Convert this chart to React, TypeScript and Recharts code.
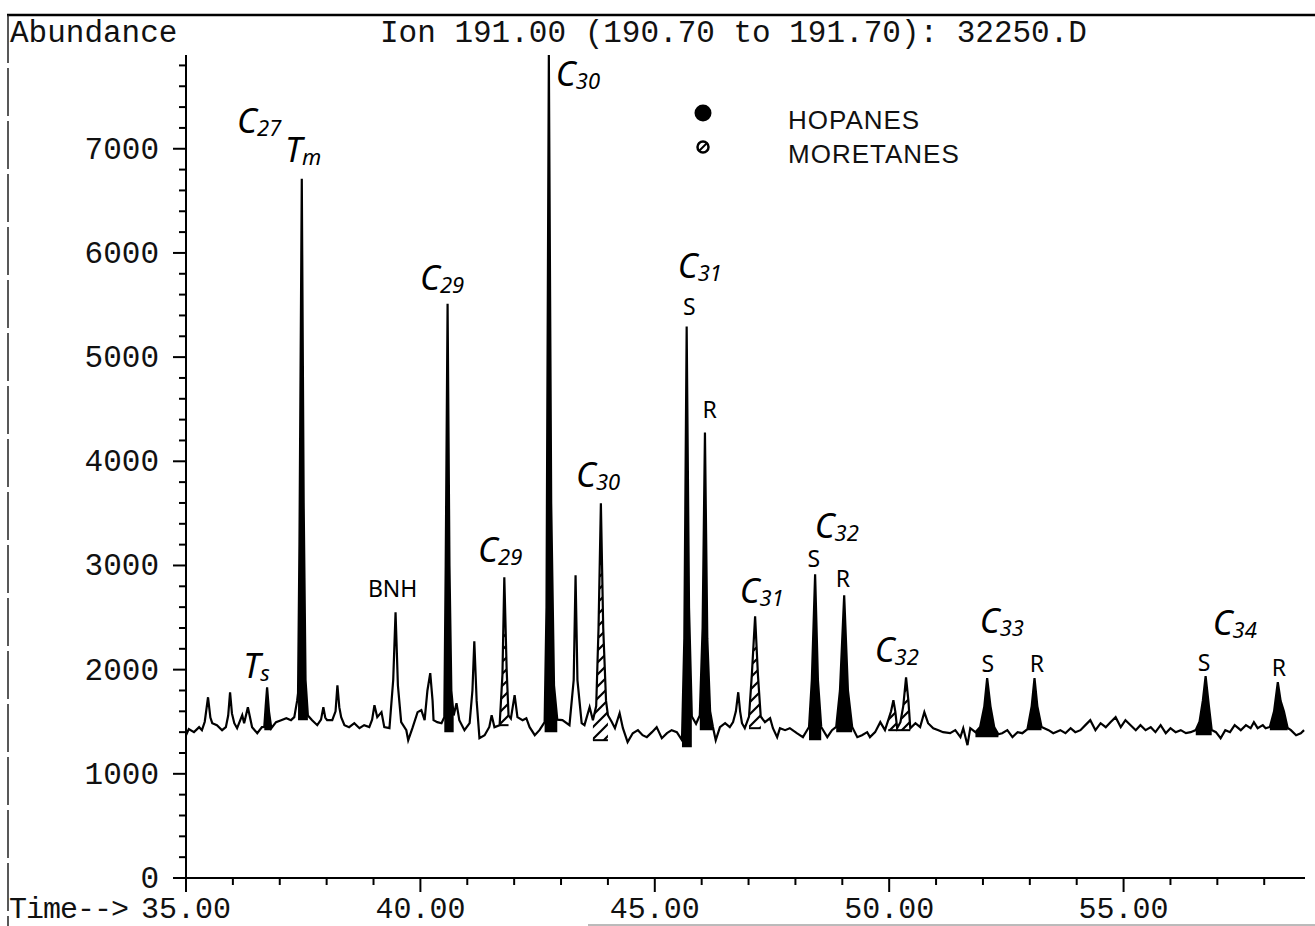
import React from 'react'
import { ComposedChart, Line, Area, XAxis, YAxis, ReferenceLine, ReferenceDot, Legend } from 'recharts'

const MONO = "'Liberation Mono', 'DejaVu Sans Mono', monospace"
const HAND = "'Noto Sans', 'DejaVu Sans', sans-serif"

// m/z 191 trace: [retention time (min), abundance]
const ionTrace: [number, number][] = [
  [35.00, 1371], [35.06, 1429], [35.17, 1400], [35.28, 1448], [35.34, 1419], [35.40, 1500], [35.47, 1735], [35.52, 1540],
  [35.56, 1486], [35.66, 1467], [35.77, 1419], [35.85, 1448], [35.90, 1560], [35.94, 1783], [35.98, 1580], [36.03, 1486],
  [36.09, 1438], [36.20, 1563], [36.24, 1486], [36.32, 1640], [36.41, 1448], [36.52, 1390], [36.62, 1448], [36.67, 1450],
  [36.70, 1650], [36.73, 1831], [36.77, 1600], [36.82, 1438], [36.92, 1496], [37.03, 1515], [37.14, 1534], [37.24, 1515],
  [37.31, 1544], [37.37, 1700], [37.39, 1774], [37.42, 3200], [37.47, 6712], [37.51, 3600], [37.55, 1900], [37.60, 1560],
  [37.69, 1515], [37.80, 1467], [37.88, 1520], [37.93, 1640], [37.97, 1540], [38.01, 1515], [38.12, 1515], [38.19, 1600],
  [38.23, 1850], [38.27, 1640], [38.31, 1544], [38.38, 1467], [38.48, 1448], [38.59, 1486], [38.70, 1438], [38.80, 1467],
  [38.91, 1448], [38.97, 1520], [39.02, 1659], [39.08, 1544], [39.17, 1592], [39.23, 1448], [39.34, 1438], [39.42, 1900],
  [39.47, 2550], [39.52, 1850], [39.59, 1496], [39.70, 1419], [39.74, 1323], [39.83, 1438], [39.94, 1592], [40.02, 1611],
  [40.09, 1515], [40.15, 1800], [40.21, 1966], [40.26, 1700], [40.28, 1515], [40.36, 1496], [40.45, 1486], [40.51, 1544],
  [40.54, 3000], [40.58, 5513], [40.62, 3000], [40.66, 1800], [40.71, 1560], [40.77, 1678], [40.83, 1515], [40.94, 1419],
  [41.05, 1486], [41.11, 1800], [41.15, 2272], [41.20, 1700], [41.26, 1342], [41.37, 1371], [41.47, 1450], [41.52, 1563],
  [41.58, 1448], [41.69, 1467], [41.75, 1950], [41.79, 2886], [41.84, 2000], [41.88, 1560], [41.93, 1530], [42.01, 1755],
  [42.07, 1544], [42.18, 1515], [42.26, 1534], [42.33, 1448], [42.44, 1371], [42.54, 1419], [42.65, 1496], [42.69, 2600],
  [42.74, 7900], [42.79, 3600], [42.85, 1850], [42.92, 1520], [43.03, 1515], [43.18, 1467], [43.27, 1900], [43.31, 2905],
  [43.35, 1900], [43.44, 1486], [43.50, 1467], [43.61, 1640], [43.68, 1515], [43.75, 1650], [43.80, 2400], [43.85, 3596],
  [43.90, 2400], [43.96, 1700], [44.00, 1563], [44.08, 1500], [44.15, 1438], [44.25, 1582], [44.32, 1438], [44.42, 1304],
  [44.53, 1390], [44.64, 1419], [44.74, 1371], [44.83, 1352], [44.94, 1400], [45.04, 1448], [45.15, 1342], [45.26, 1390],
  [45.36, 1419], [45.47, 1400], [45.58, 1323], [45.63, 2300], [45.68, 5293], [45.73, 2600], [45.79, 1550], [45.88, 1480],
  [45.96, 1560], [46.02, 2400], [46.07, 4276], [46.12, 2300], [46.18, 1600], [46.24, 1450], [46.30, 1323], [46.39, 1448],
  [46.50, 1486], [46.60, 1448], [46.67, 1496], [46.73, 1600], [46.78, 1783], [46.82, 1600], [46.86, 1486], [46.92, 1438],
  [47.01, 1550], [47.07, 1950], [47.14, 2512], [47.20, 1950], [47.26, 1550], [47.35, 1496], [47.46, 1534], [47.52, 1438],
  [47.61, 1352], [47.67, 1438], [47.78, 1419], [47.88, 1438], [48.03, 1390], [48.16, 1352], [48.29, 1450], [48.35, 1900],
  [48.42, 2915], [48.48, 1900], [48.55, 1450], [48.68, 1352], [48.78, 1419], [48.87, 1450], [48.95, 1800], [49.04, 2713],
  [49.12, 1800], [49.21, 1450], [49.32, 1352], [49.42, 1371], [49.53, 1400], [49.59, 1352], [49.70, 1400], [49.81, 1496],
  [49.91, 1419], [49.98, 1515], [50.04, 1600], [50.09, 1707], [50.13, 1600], [50.17, 1438], [50.24, 1496], [50.30, 1650],
  [50.36, 1927], [50.41, 1700], [50.45, 1438], [50.56, 1486], [50.66, 1448], [50.75, 1592], [50.83, 1486], [50.94, 1438],
  [51.05, 1419], [51.15, 1400], [51.30, 1390], [51.41, 1419], [51.52, 1352], [51.58, 1438], [51.67, 1275], [51.73, 1438],
  [51.84, 1400], [51.94, 1450], [52.03, 1650], [52.09, 1918], [52.16, 1650], [52.24, 1450], [52.33, 1380], [52.41, 1390],
  [52.52, 1419], [52.63, 1352], [52.74, 1400], [52.84, 1390], [52.95, 1430], [53.04, 1650], [53.10, 1918], [53.16, 1650],
  [53.25, 1450], [53.40, 1419], [53.50, 1390], [53.65, 1419], [53.76, 1390], [53.87, 1438], [53.97, 1400], [54.08, 1419],
  [54.19, 1470], [54.29, 1515], [54.40, 1419], [54.51, 1486], [54.62, 1448], [54.72, 1496], [54.83, 1544], [54.94, 1448],
  [55.04, 1515], [55.15, 1467], [55.26, 1419], [55.36, 1467], [55.47, 1419], [55.58, 1448], [55.68, 1400], [55.79, 1467],
  [55.90, 1390], [56.00, 1438], [56.11, 1400], [56.22, 1419], [56.33, 1390], [56.43, 1400], [56.54, 1420], [56.62, 1500],
  [56.69, 1700], [56.75, 1937], [56.82, 1650], [56.88, 1420], [56.97, 1400], [57.07, 1342], [57.17, 1419], [57.27, 1400],
  [57.37, 1467], [57.50, 1419], [57.61, 1467], [57.71, 1438], [57.78, 1496], [57.86, 1438], [57.97, 1467], [58.03, 1438],
  [58.12, 1450], [58.21, 1600], [58.29, 1879], [58.35, 1700], [58.42, 1600], [58.50, 1440], [58.57, 1419], [58.68, 1371],
  [58.78, 1390], [58.85, 1419],
]

// integrated peaks: time window and the baseline they are filled down to
const hopanePeaks = [
  { name: 'Ts', from: 36.66, to: 36.82, base: 1419 },
  { name: 'Tm', from: 37.39, to: 37.60, base: 1515 },
  { name: 'C29', from: 40.51, to: 40.71, base: 1400 },
  { name: 'C30', from: 42.65, to: 42.92, base: 1400 },
  { name: 'C31S', from: 45.58, to: 45.79, base: 1256 },
  { name: 'C31R', from: 45.96, to: 46.24, base: 1419 },
  { name: 'C32S', from: 48.29, to: 48.55, base: 1323 },
  { name: 'C32R', from: 48.87, to: 49.21, base: 1400 },
  { name: 'C33S', from: 51.84, to: 52.33, base: 1352 },
  { name: 'C33R', from: 52.95, to: 53.25, base: 1419 },
  { name: 'C34S', from: 56.54, to: 56.88, base: 1371 },
  { name: 'C34R', from: 58.12, to: 58.50, base: 1419 },
]

const moretanePeaks = [
  { name: 'C29m', from: 41.69, to: 41.88, base: 1467 },
  { name: 'C30m', from: 43.68, to: 44.00, base: 1323 },
  { name: 'C31m', from: 47.01, to: 47.26, base: 1438 },
  { name: 'C32m', from: 49.98, to: 50.45, base: 1419 },
]

// hand written peak notes (anchored at retention time / abundance)
const peakNotes = [
  { text: 'C', sub: '27', t: 36.09, v: 7150 },
  { text: 'T', sub: 'm', t: 37.11, v: 6870 },
  { text: 'T', sub: 's', t: 36.22, v: 1920 },
  { text: 'BNH', sub: '', t: 38.88, v: 2700 },
  { text: 'C', sub: '29', t: 39.99, v: 5640 },
  { text: 'C', sub: '29', t: 41.23, v: 3030 },
  { text: 'C', sub: '30', t: 42.89, v: 7600 },
  { text: 'C', sub: '30', t: 43.32, v: 3750 },
  { text: 'C', sub: '31', t: 45.49, v: 5760 },
  { text: 'S', sub: '', t: 45.60, v: 5400 },
  { text: 'R', sub: '', t: 46.02, v: 4420 },
  { text: 'C', sub: '31', t: 46.81, v: 2640 },
  { text: 'C', sub: '32', t: 48.41, v: 3260 },
  { text: 'S', sub: '', t: 48.26, v: 2985 },
  { text: 'R', sub: '', t: 48.86, v: 2790 },
  { text: 'C', sub: '32', t: 49.69, v: 2070 },
  { text: 'C', sub: '33', t: 51.93, v: 2350 },
  { text: 'S', sub: '', t: 51.97, v: 1980 },
  { text: 'R', sub: '', t: 53.00, v: 1980 },
  { text: 'C', sub: '34', t: 56.90, v: 2330 },
  { text: 'S', sub: '', t: 56.58, v: 1990 },
  { text: 'R', sub: '', t: 58.16, v: 1940 },
]

const timeTicks = [35, 36, 37, 38, 39, 40, 41, 42, 43, 44, 45, 46, 47, 48, 49, 50, 51, 52, 53, 54, 55, 56, 57, 58]
const abundanceTicks = [
  0, 200, 400, 600, 800, 1000, 1200, 1400, 1600, 1800, 2000, 2200, 2400, 2600, 2800, 3000, 3200, 3400, 3600, 3800,
  4000, 4200, 4400, 4600, 4800, 5000, 5200, 5400, 5600, 5800, 6000, 6200, 6400, 6600, 6800, 7000, 7200, 7400, 7600, 7800,
]

const traceRows = ionTrace.map(([t, v]) => ({ t, v }))
const peakRows = (from: number, to: number) => traceRows.filter(r => r.t >= from && r.t <= to)

const YTick = ({ x, y, payload }: any) => {
  const major = payload.value % 1000 === 0
  return (
    <g>
      <line x1={x - (major ? 13 : 7)} x2={x} y1={y} y2={y} stroke="#000" strokeWidth={2} />
      {major && (
        <text x={x - 27} y={y} dy={10} textAnchor="end" fontFamily={MONO} fontSize={31} fill="#111">
          {payload.value}
        </text>
      )}
    </g>
  )
}

const XTick = ({ x, y, payload }: any) => {
  const major = payload.value % 5 === 0
  return (
    <g>
      <line x1={x} x2={x} y1={y} y2={y + (major ? 14 : 7)} stroke="#000" strokeWidth={2} />
      {major && (
        <text x={x} y={y + 40} textAnchor="middle" fontFamily={MONO} fontSize={30} fill="#111">
          {payload.value.toFixed(2)}
        </text>
      )}
    </g>
  )
}

const noteShape = (note: { text: string; sub: string }) => (props: any) => {
  if (note.sub) {
    return (
      <text x={props.cx} y={props.cy} fontFamily={HAND} fontStyle="italic" fontSize={34} fill="#000">
        {note.text}
        <tspan fontSize={22} dy={3}>{note.sub}</tspan>
      </text>
    )
  }
  return (
    <text x={props.cx} y={props.cy} fontFamily={HAND} fontSize={23} fill="#000">
      {note.text}
    </text>
  )
}

const LegendBox = () => (
  <svg width={300} height={80}>
    <circle cx={13} cy={18} r={8.5} fill="#000" />
    <circle cx={13} cy={52} r={5.5} fill="#fff" stroke="#000" strokeWidth={2.5} />
    <line x1={9} y1={56} x2={17} y2={48} stroke="#000" strokeWidth={2} />
    <text x={98} y={34} fontFamily="'Liberation Sans', Arial, sans-serif" fontSize={26} letterSpacing={1} fill="#111">HOPANES</text>
    <text x={98} y={68} fontFamily="'Liberation Sans', Arial, sans-serif" fontSize={26} letterSpacing={1} fill="#111">MORETANES</text>
  </svg>
)

export default function App() {
  return (
    <div style={{ position: 'absolute', left: 0, top: 0, width: 1315, height: 926, background: '#fff' }}>
      <ComposedChart width={1315} height={926} data={traceRows} margin={{ top: 55, right: 10, bottom: 0, left: 0 }}>
        <defs>
          <pattern id="hatch" width={12} height={12} patternUnits="userSpaceOnUse">
            <rect width={12} height={12} fill="#fff" />
            <path d="M0,12 L12,0 M-3,3 L3,-3 M9,15 L15,9" stroke="#000" strokeWidth={2.2} />
          </pattern>
        </defs>
        <XAxis
          dataKey="t"
          type="number"
          domain={[35, 58.87]}
          allowDataOverflow
          ticks={timeTicks}
          interval={0}
          tick={<XTick />}
          tickLine={false}
          tickSize={0}
          tickMargin={0}
          height={48}
          axisLine={{ stroke: '#000', strokeWidth: 2 }}
        />
        <YAxis
          type="number"
          domain={[0, 7900]}
          allowDataOverflow
          ticks={abundanceTicks}
          interval={0}
          tick={<YTick />}
          tickLine={false}
          tickSize={0}
          tickMargin={0}
          width={186}
          axisLine={{ stroke: '#000', strokeWidth: 2 }}
        />
        {hopanePeaks.map(p => (
          <Area
            key={p.name}
            data={peakRows(p.from, p.to)}
            dataKey="v"
            type="linear"
            baseValue={p.base}
            fill="#000"
            fillOpacity={1}
            stroke="none"
            legendType="none"
            isAnimationActive={false}
          />
        ))}
        {moretanePeaks.map(p => (
          <Area
            key={p.name}
            data={peakRows(p.from, p.to)}
            dataKey="v"
            type="linear"
            baseValue={p.base}
            fill="url(#hatch)"
            fillOpacity={1}
            stroke="none"
            legendType="none"
            isAnimationActive={false}
          />
        ))}
        <Line dataKey="v" type="linear" stroke="#000" strokeWidth={2.2} dot={false} activeDot={false} legendType="none" isAnimationActive={false} />
        {moretanePeaks.map(p => (
          <ReferenceLine
            key={p.name + '-base'}
            segment={[{ x: p.from, y: p.base }, { x: p.to, y: p.base }]}
            stroke="#000"
            strokeWidth={2}
            ifOverflow="visible"
          />
        ))}
        {peakNotes.map((n, i) => (
          <ReferenceDot key={i} x={n.t} y={n.v} r={0} ifOverflow="visible" shape={noteShape(n)} />
        ))}
        <Legend
          layout="vertical"
          align="center"
          verticalAlign="middle"
          wrapperStyle={{ position: 'absolute', left: 690, top: 95, width: 300, height: 80 }}
          content={() => <LegendBox />}
        />
      </ComposedChart>
      <svg width={1315} height={926} style={{ position: 'absolute', left: 0, top: 0, pointerEvents: 'none' }}>
        <line x1={7} x2={1315} y1={15} y2={15} stroke="#000" strokeWidth={2.5} />
        <line x1={8} x2={8} y1={15} y2={926} stroke="#222" strokeWidth={1.5} strokeDasharray="48 5" />
        <line x1={588} x2={1315} y1={925} y2={925} stroke="#777" strokeWidth={1} />
        <text x={10} y={42} fontFamily={MONO} fontSize={31} fill="#111">Abundance</text>
        <text x={380} y={42} fontFamily={MONO} fontSize={31} fill="#111">Ion 191.00 (190.70 to 191.70): 32250.D</text>
        <text x={9} y={918} fontFamily={MONO} fontSize={30} letterSpacing={-1} fill="#111">Time--&gt;</text>
      </svg>
    </div>
  )
}
